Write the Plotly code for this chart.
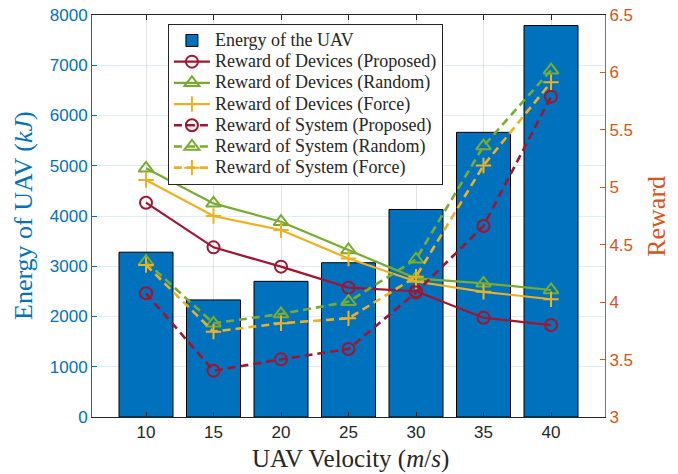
import plotly.graph_objects as go

velocity = [10, 15, 20, 25, 30, 35, 40]
energy = [3280, 2330, 2700, 3070, 4130, 5665, 7790]

dev_proposed = [4.866, 4.477, 4.309, 4.126, 4.095, 3.864, 3.80]
dev_random = [5.165, 4.86, 4.70, 4.454, 4.207, 4.164, 4.106]
dev_force = [5.063, 4.75, 4.628, 4.38, 4.18, 4.09, 4.025]
sys_proposed = [4.077, 3.403, 3.502, 3.592, 4.085, 4.663, 5.789]
sys_random = [4.352, 3.816, 3.897, 4.004, 4.373, 5.359, 6.02]
sys_force = [4.323, 3.743, 3.816, 3.859, 4.222, 5.19, 5.914]

left_ticks = [0, 1000, 2000, 3000, 4000, 5000, 6000, 7000, 8000]
right_ticks = [3, 3.5, 4, 4.5, 5, 5.5, 6, 6.5]

BLUE = "#0072BD"
ORANGE = "#D95319"
RED = "#A2142F"
GREEN = "#77AC30"
YELLOW = "#EDB120"
DARK = "#262626"
SERIF = "Liberation Serif"
SANS = "Liberation Sans"


def lg(name):
    return '<span style="font-size:18px">' + name + "</span>"


fig = go.Figure()
fig.add_trace(go.Bar(
    x=velocity, y=energy, name=lg("Energy of the UAV"), width=4,
    marker=dict(color=BLUE, line=dict(color="black", width=1)),
    yaxis="y"))


def line(y, name, color, symbol, dash, msize):
    return go.Scatter(
        x=velocity, y=y, name=lg(name), mode="lines+markers", yaxis="y2",
        line=dict(color=color, width=2.2 if dash == "solid" else 2.6, dash=dash),
        marker=dict(symbol=symbol, size=msize, color=color,
                    line=dict(color=color, width=2)))


fig.add_trace(line(dev_proposed, "Reward of Devices (Proposed)", RED, "circle-open", "solid", 12))
fig.add_trace(line(dev_random, "Reward of Devices (Random)", GREEN, "triangle-up-open", "solid", 13))
fig.add_trace(line(dev_force, "Reward of Devices (Force)", YELLOW, "cross-thin-open", "solid", 11))
fig.add_trace(line(sys_proposed, "Reward of System (Proposed)", RED, "circle-open", "8px,5px", 12))
fig.add_trace(line(sys_random, "Reward of System (Random)", GREEN, "triangle-up-open", "8px,5px", 13))
fig.add_trace(line(sys_force, "Reward of System (Force)", YELLOW, "cross-thin-open", "8px,5px", 11))

fig.update_layout(
    width=678, height=474,
    margin=dict(l=92, r=73, t=15, b=57, autoexpand=False),
    plot_bgcolor="white", paper_bgcolor="white",
    showlegend=True,
    legend=dict(x=0.148, y=0.978, xanchor="left", yanchor="top",
                bgcolor="white", bordercolor=DARK, borderwidth=1,
                font=dict(family=SERIF, size=14, color=DARK),
                itemwidth=36, tracegroupgap=0),
    xaxis=dict(range=[6, 44], tickvals=velocity, ticktext=[str(v) for v in velocity],
               automargin=False,
               showline=True, linecolor=DARK, linewidth=1, mirror="ticks",
               ticks="inside", ticklen=5, tickcolor=DARK,
               showgrid=True, gridcolor="#e3e3e3", gridwidth=1, zeroline=False,
               tickfont=dict(family=SANS, size=17, color=DARK)),
    yaxis=dict(range=[0, 8000], tickvals=left_ticks, tickformat="d",
               automargin=False,
               showline=True, linecolor=BLUE, linewidth=1,
               ticks="inside", ticklen=5, tickcolor=BLUE,
               showgrid=True, gridcolor="rgba(0,114,189,0.13)", gridwidth=1, zeroline=False,
               tickfont=dict(family=SANS, size=17, color=BLUE)),
    yaxis2=dict(range=[3, 6.5], tickvals=right_ticks,
                automargin=False,
                overlaying="y", side="right",
                showline=True, linecolor=ORANGE, linewidth=1,
                ticks="inside", ticklen=5, tickcolor=ORANGE,
                showgrid=False, zeroline=False,
                tickfont=dict(family=SANS, size=17, color=ORANGE)),
    annotations=[
        dict(text="Energy of UAV (<i>kJ</i>)", xref="paper", yref="paper",
             x=-0.1345, y=0.5, xanchor="center", yanchor="middle", textangle=-90,
             showarrow=False, font=dict(family=SERIF, size=26, color=BLUE)),
        dict(text="Reward", xref="paper", yref="paper",
             x=1.099, y=0.5, xanchor="center", yanchor="middle", textangle=-90,
             showarrow=False, font=dict(family=SERIF, size=26, color=ORANGE)),
        dict(text="UAV Velocity (<i>m</i>/<i>s</i>)", xref="paper", yref="paper",
             x=0.503, y=-0.105, xanchor="center", yanchor="middle",
             showarrow=False, font=dict(family=SERIF, size=25, color=DARK)),
    ],
)

fig.write_html("out.html", config={"displayModeBar": False},
               post_script="document.body.style.margin='0px';document.body.style.padding='0px';")
